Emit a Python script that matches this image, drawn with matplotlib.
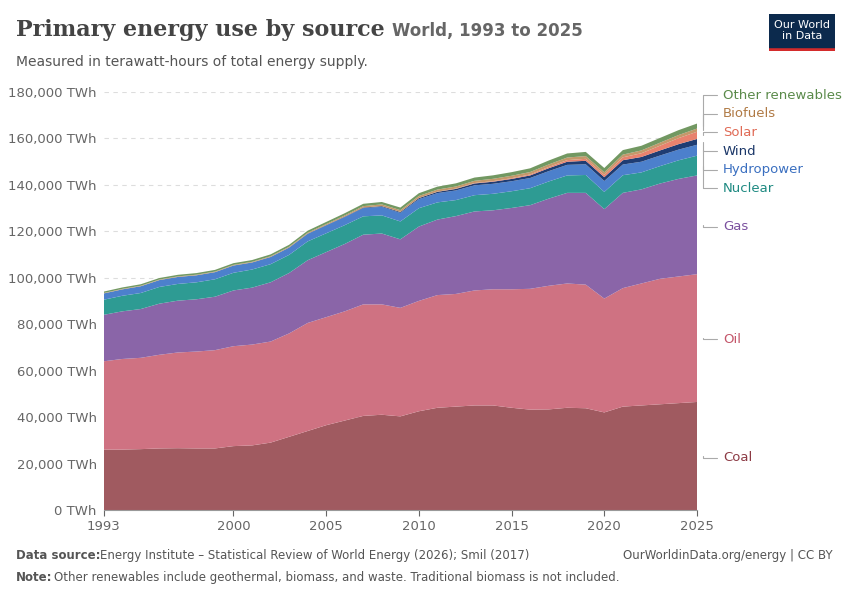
import matplotlib
matplotlib.use("Agg")
import matplotlib.pyplot as plt
import numpy as np

years = list(range(1993, 2026))
coal = [26000,26000,26200,26500,26600,26500,26500,27500,27800,29000,31500,34000,36500,38500,40500,41000,40300,42500,44000,44500,45000,45000,44000,43200,43300,44000,43800,42000,44500,45000,45500,46000,46500]
oil = [38000,39000,39300,40300,41200,41700,42300,43000,43400,43500,44500,46500,46500,47000,48000,47500,46700,47500,48500,48500,49500,50000,51000,52000,53200,53500,53200,49000,51000,52500,54000,54500,55000]
gas = [20000,20500,21000,22000,22300,22500,23000,24000,24500,25500,26000,27000,28000,29000,30000,30500,29500,32000,32500,33500,34000,34000,35000,36000,37500,39000,39500,38500,41000,40500,41000,42000,42500]
nuclear = [6500,6700,6900,7200,7200,7300,7500,7600,7800,7800,7800,8100,8100,8100,7900,7800,7700,7900,7400,6900,7000,7100,7200,7300,7400,7500,7700,7400,7600,7300,7500,8000,8500]
hydro = [2700,2750,2900,2950,3000,3000,3050,3100,3000,3050,3100,3250,3400,3500,3550,3700,3700,3900,4000,4150,4250,4300,4300,4400,4450,4550,4600,4700,4600,4600,4550,4600,4700]
wind = [5,5,10,10,15,20,25,40,50,65,85,110,140,180,230,290,360,450,550,650,800,900,1000,1100,1250,1350,1500,1650,1850,2050,2200,2350,2500]
solar = [0,0,0,0,0,0,0,3,3,3,5,5,8,10,15,25,30,50,100,150,190,250,330,420,540,690,850,1000,1250,1600,2050,2600,3100]
biofuels = [200,210,220,230,240,250,250,260,270,300,330,380,430,500,600,720,780,860,870,900,950,1000,1030,1050,1080,1120,1180,1100,1160,1220,1280,1330,1380]
other = [600,620,640,660,680,700,720,740,760,800,830,870,900,950,1000,1050,1100,1200,1260,1350,1400,1500,1550,1600,1700,1750,1800,1850,1950,2000,2050,2100,2150]
labels = ["Coal","Oil","Gas","Nuclear","Hydropower","Wind","Solar","Biofuels","Other renewables"]
series = [coal, oil, gas, nuclear, hydro, wind, solar, biofuels, other]
colors = ["#a05a60","#cf7282","#8a65a8","#2e9b93","#4c80cc","#1f3d73","#e8826e","#c4986a","#729862"]
textcolors = ["#8c3a44","#c4566a","#7a4f9e","#1f8a82","#3a6fc0","#1a3668","#e06a55","#b07a45","#5a8a4a"]

fig = plt.figure(figsize=(8.5, 6), dpi=100)
ax = fig.add_axes([0.122, 0.15, 0.698, 0.697])
ax.stackplot(years, *series, colors=colors, linewidth=0)
ax.set_xlim(1993, 2025)
ax.set_ylim(0, 180000)
ax.set_yticks(range(0, 180001, 20000))
ax.set_yticklabels([f"{v:,} TWh" for v in range(0, 180001, 20000)], color="#666666", fontsize=9.5)
ax.set_xticks([1993, 2000, 2005, 2010, 2015, 2020, 2025])
ax.tick_params(axis="x", colors="#666666", labelsize=9.5, length=4)
ax.tick_params(axis="y", length=0, pad=5)
ax.grid(axis="y", ls=(0, (4, 4)), color="#dddddd")
ax.set_axisbelow(True)
for s in ["top", "right", "left"]:
    ax.spines[s].set_visible(False)
ax.spines["bottom"].set_color("#999999")

ends = np.array([s[-1] for s in series])
mids = np.cumsum(ends) - ends / 2
label_y = [22500, 73500, 122000, 138500, 146500, 154500, 162500, 170500, 178500]
for lab, m, ly, tc in zip(labels, mids, label_y, textcolors):
    ax.annotate(lab, xy=(2025.3, m), xytext=(2026.4, ly), textcoords="data",
                fontsize=9.5, color=tc, va="center", annotation_clip=False,
                arrowprops=dict(arrowstyle="-", color="#aaaaaa", lw=0.8,
                                connectionstyle="angle,angleA=0,angleB=90,rad=0",
                                shrinkA=2, shrinkB=0))

t = fig.text(0.019, 0.94, "Primary energy use by source", fontsize=16, fontweight="bold",
             family="DejaVu Serif", color="#444444")
fig.canvas.draw()
bb = t.get_window_extent().transformed(fig.transFigure.inverted())
fig.text(bb.x1 + 0.008, 0.94, "World, 1993 to 2025", fontsize=12, color="#666666", fontweight="bold")
fig.text(0.019, 0.89, "Measured in terawatt-hours of total energy supply.", fontsize=10, color="#555555")
fig.text(0.019, 0.068, "Data source:", fontsize=8.5, color="#555555", fontweight="bold")
fig.text(0.118, 0.068, "Energy Institute – Statistical Review of World Energy (2026); Smil (2017)", fontsize=8.5, color="#555555")
fig.text(0.98, 0.068, "OurWorldinData.org/energy | CC BY", fontsize=8.5, color="#555555", ha="right")
fig.text(0.019, 0.032, "Note:", fontsize=8.5, color="#555555", fontweight="bold")
fig.text(0.064, 0.032, "Other renewables include geothermal, biomass, and waste. Traditional biomass is not included.", fontsize=8.5, color="#555555")

logo = fig.add_axes([0.905, 0.915, 0.077, 0.062])
logo.set_xticks([]); logo.set_yticks([])
logo.set_facecolor("#0c2a4d")
for s in logo.spines.values():
    s.set_visible(False)
logo.axhline(0, color="#d42b2b", lw=4)
logo.text(0.5, 0.55, "Our World\nin Data", color="white", ha="center", va="center", fontsize=8, linespacing=1.1)

fig.savefig("out.png", dpi=100)
